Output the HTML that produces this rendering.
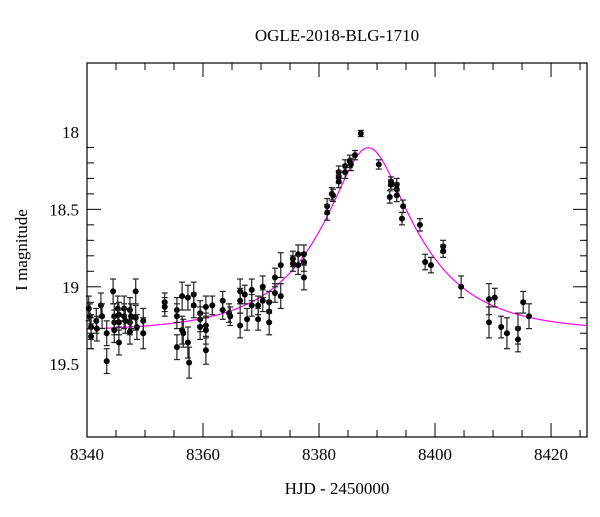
<!DOCTYPE html>
<html><head><meta charset="utf-8"><style>
body{margin:0;background:#fff}
svg text{font-family:"Liberation Serif",serif;fill:#000}
</style></head><body>
<svg id="c" width="600" height="512" xmlns="http://www.w3.org/2000/svg">
<rect width="600" height="512" fill="#fff"/>
<text x="337" y="41" font-size="17" text-anchor="middle">OGLE-2018-BLG-1710</text>
<text x="337" y="494" font-size="17" text-anchor="middle">HJD - 2450000</text>
<text x="27" y="250" font-size="17" text-anchor="middle" transform="rotate(-90 27 250)">I magnitude</text>
<g id="ticks"></g><g id="model"></g><g id="pts"></g>
<rect x="87" y="63" width="500" height="374" fill="none" stroke="#000" stroke-width="1.2"/>
</svg>
<script>
const times=[8340.3,8340.5,8340.7,8340.7,8341.6,8341.7,8342.4,8342.6,8343.4,8343.4,8344.5,8344.7,8344.7,8344.7,8345.3,8345.5,8345.5,8345.5,8346.4,8346.4,8346.6,8347.4,8347.4,8347.4,8347.6,8348.4,8348.4,8348.6,8349.7,8349.7,8353.4,8353.4,8355.5,8355.5,8355.5,8356.4,8356.4,8356.6,8357.4,8357.4,8357.6,8358.4,8358.4,8359.5,8359.5,8359.5,8360.5,8360.5,8360.5,8360.5,8361.6,8363.4,8363.4,8364.5,8364.7,8366.4,8366.4,8366.4,8367.2,8367.6,8368.4,8368.4,8369.5,8369.5,8370.3,8370.3,8371.4,8371.4,8371.4,8372.4,8372.4,8373.4,8373.4,8375.5,8375.5,8376.4,8376.4,8377.4,8377.4,8377.4,8381.4,8381.4,8382.2,8382.4,8383.4,8383.4,8383.4,8384.5,8384.5,8385.3,8385.5,8386.2,8387.2,8390.3,8392.4,8392.4,8392.2,8393.4,8393.4,8393.4,8394.5,8394.3,8397.4,8398.3,8399.3,8401.4,8401.4,8404.5,8409.3,8409.3,8410.3,8411.4,8412.4,8414.3,8414.3,8415.2,8416.2];
const mags=[19.14,19.19,19.26,19.32,19.22,19.27,19.12,19.19,19.30,19.48,19.03,19.19,19.23,19.28,19.14,19.18,19.23,19.36,19.14,19.19,19.22,19.15,19.23,19.29,19.19,19.03,19.20,19.26,19.22,19.30,19.10,19.13,19.15,19.19,19.39,19.06,19.28,19.30,19.07,19.36,19.49,19.05,19.12,19.17,19.21,19.26,19.13,19.25,19.28,19.41,19.12,19.09,19.15,19.17,19.19,19.03,19.09,19.25,19.05,19.21,19.02,19.12,19.12,19.21,19.00,19.09,19.10,19.16,19.23,18.94,19.04,18.86,19.06,18.82,18.85,18.79,18.86,18.84,18.79,18.94,18.48,18.52,18.40,18.41,18.26,18.29,18.32,18.22,18.26,18.19,18.21,18.15,18.01,18.21,18.32,18.34,18.42,18.34,18.37,18.41,18.48,18.56,18.60,18.84,18.86,18.74,18.77,19.00,19.08,19.23,19.07,19.26,19.30,19.27,19.34,19.10,19.19];
const errs=[0.08,0.08,0.08,0.08,0.08,0.08,0.08,0.08,0.08,0.08,0.08,0.08,0.08,0.08,0.08,0.08,0.08,0.08,0.08,0.08,0.08,0.08,0.08,0.08,0.08,0.08,0.08,0.08,0.08,0.1,0.06,0.06,0.08,0.08,0.08,0.09,0.09,0.09,0.08,0.1,0.1,0.08,0.08,0.08,0.08,0.08,0.07,0.08,0.09,0.09,0.06,0.06,0.06,0.06,0.06,0.08,0.08,0.08,0.06,0.07,0.07,0.07,0.06,0.07,0.07,0.07,0.07,0.07,0.08,0.06,0.06,0.08,0.08,0.05,0.05,0.06,0.06,0.06,0.06,0.08,0.05,0.05,0.04,0.04,0.04,0.04,0.04,0.04,0.04,0.04,0.04,0.03,0.02,0.03,0.03,0.03,0.04,0.04,0.04,0.04,0.04,0.04,0.04,0.05,0.05,0.04,0.04,0.07,0.1,0.1,0.06,0.07,0.1,0.1,0.08,0.07,0.08];
const xTicks=[8340,8360,8380,8400,8420];
const yTicks=[18,18.5,19,19.5];
const model={t0:8388.5,tE:16.2,u0:0.35,base:19.29};
const X0=8340,X1=8426.2,Y0=17.555,Y1=19.97,L=87,R=587,T=63,B=437;
const sx=t=>L+(t-X0)/(X1-X0)*(R-L);
const sy=m=>T+(m-Y0)/(Y1-Y0)*(B-T);
const NS="http://www.w3.org/2000/svg";
function mk(tag,attrs,parent){const e=document.createElementNS(NS,tag);for(const k in attrs)e.setAttribute(k,attrs[k]);parent.appendChild(e);return e;}
const tg=document.getElementById('ticks');
for(let t=8340;t<=8426;t+=5){const x=sx(t);const maj=(t%20===0);const len=maj?14:7;
 const a=mk('line',{x1:x,y1:B,x2:x,y2:B-len,stroke:'#000'},tg);
 
 
 const b=mk('line',{x1:x,y1:T,x2:x,y2:T+len,stroke:'#000'},tg);
 
 }
xTicks.forEach(t=>{const e=mk('text',{x:sx(t),y:B+23,'font-size':17,'text-anchor':'middle'},tg);e.textContent=t;
 
 });
for(let i=6;i<=19;i++){const m=17.5+i*0.1;const y=sy(m);if(y<T||y>B)continue;const maj=(i%5===0);const len=maj?14:7;
 const a=mk('line',{x1:L,y1:y,x2:L+len,y2:y,stroke:'#000'},tg);
 
 
 const b=mk('line',{x1:R,y1:y,x2:R-len,y2:y,stroke:'#000'},tg);
 
 }
yTicks.forEach(m=>{const e=mk('text',{x:L-8,y:sy(m)+6,'font-size':17,'text-anchor':'end'},tg);e.textContent=String(m);
 
 });
// model curve
let d='';
for(let t=X0;t<=X1;t+=0.2){const tau=(t-model.t0)/model.tE;const u=Math.sqrt(model.u0*model.u0+tau*tau);
 const A=(u*u+2)/(u*Math.sqrt(u*u+4));const m=model.base-2.5*Math.log10(A);d+=(d?'L':'M')+sx(t).toFixed(1)+','+sy(m).toFixed(1);}
const mc=mk('path',{d:d,fill:'none',stroke:'#ff00ff','stroke-width':1.2},document.getElementById('model'));


const pg=document.getElementById('pts');
times.forEach((t,i)=>{const x=sx(t),y=sy(mags[i]),e=errs[i];const y1=sy(mags[i]-e),y2=sy(mags[i]+e);
 const g=mk('g',{},pg);
 
 
 mk('line',{x1:x,y1:y1,x2:x,y2:y2,stroke:'#222','stroke-width':1.2},g);
 mk('line',{x1:x-3,y1:y1,x2:x+3,y2:y1,stroke:'#222','stroke-width':1.2},g);
 mk('line',{x1:x-3,y1:y2,x2:x+3,y2:y2,stroke:'#222','stroke-width':1.2},g);
 mk('circle',{cx:x,cy:y,r:3,fill:'#000'},g);});
</script>
</body></html>
